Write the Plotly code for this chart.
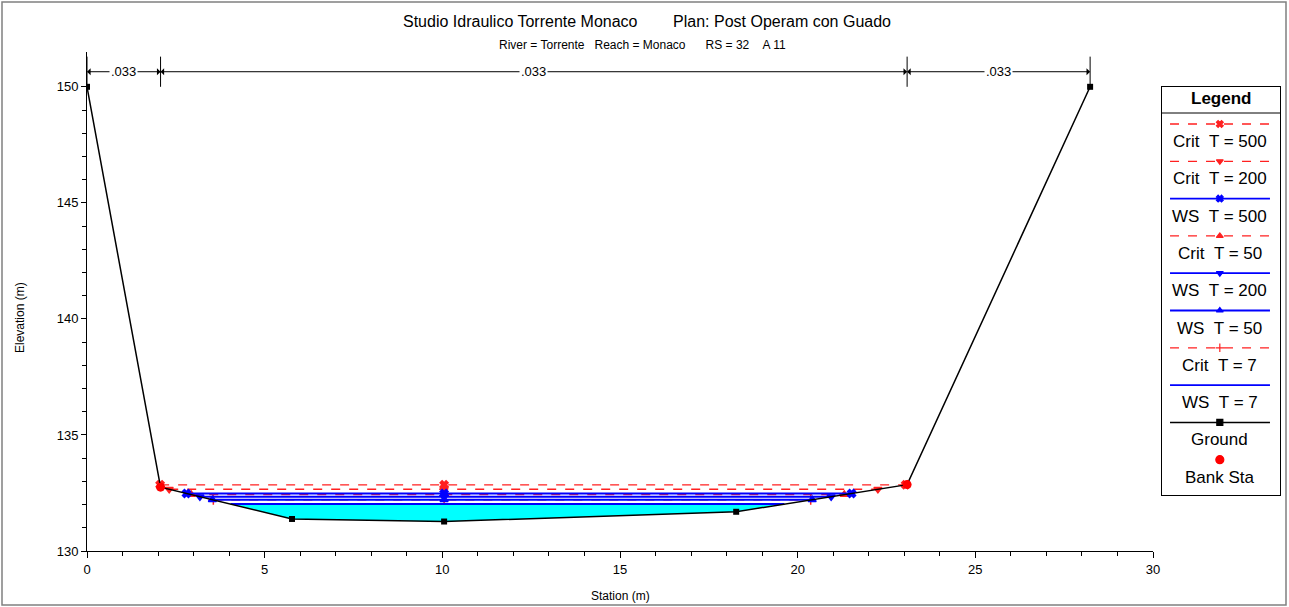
import numpy as np
import plotly.graph_objects as go

# ---------------- data ----------------
ground_sta = [0.0, 2.07, 5.77, 10.05, 18.27, 23.08, 28.23]
ground_elev = [150.0, 132.75, 131.38, 131.27, 131.69, 132.86, 150.0]
bank_sta = [2.07, 23.08]

profile_names = ["Crit T = 500", "Crit T = 200", "WS T = 500", "Crit T = 50",
                 "WS T = 200", "WS T = 50", "Crit T = 7", "WS T = 7"]
profile_elev = [132.85, 132.66, 132.48, 132.43, 132.34, 132.21, 132.20, 132.02]
profile_symbols = ["x", "triangle-down", "x", "triangle-up",
                   "triangle-down", "triangle-up", "cross-thin", None]

n_sta = [0.0, 2.07, 23.08, 28.23]
n_values = [".033", ".033", ".033"]

title1 = "Studio Idraulico Torrente Monaco\u00a0\u00a0\u00a0\u00a0\u00a0\u00a0\u00a0\u00a0Plan: Post Operam con Guado"
title2 = ("River = Torrente\u00a0\u00a0\u00a0Reach = Monaco\u00a0\u00a0\u00a0\u00a0\u00a0\u00a0"
          "RS = 32\u00a0\u00a0\u00a0\u00a0A 11")

FONT = "Liberation Sans Narrow, Liberation Sans, Arial, sans-serif"

# ---------------- geometry helpers ----------------
gs = np.array(ground_sta)
ge = np.array(ground_elev)
i0 = int(np.argmin(ge))


def intersections(level):
    xl, xr, il, ir = gs[0], gs[-1], 0, len(gs) - 1
    for i in range(i0, 0, -1):
        if ge[i - 1] >= level:
            t = (level - ge[i]) / (ge[i - 1] - ge[i])
            xl = gs[i] + t * (gs[i - 1] - gs[i])
            il = i
            break
    for j in range(i0, len(gs) - 1):
        if ge[j + 1] >= level:
            t = (level - ge[j]) / (ge[j + 1] - ge[j])
            xr = gs[j] + t * (gs[j + 1] - gs[j])
            ir = j
            break
    return xl, xr, il, ir


# ---------------- figure ----------------
W, H = 1289, 607
ML, MR, MT, MB = 87, 0, 52, 56
PW = 1195  # effective plot width observed in the rendered page
PH = H - MT - MB
x_dom_end = min(1066 / PW, 0.9)


def px_to_paper_x(px):
    return (px - ML) / PW


def px_to_paper_y(py):
    return (H - MB - py) / PH


fig = go.Figure()

# water fill for lowest WS profile
ws_low = profile_elev[-1]
xl, xr, il, ir = intersections(ws_low)
fx = [xl] + list(gs[il:ir + 1]) + [xr, xl]
fy = [ws_low] + list(ge[il:ir + 1]) + [ws_low, ws_low]
fig.add_trace(go.Scatter(x=fx, y=fy, fill="toself", fillcolor="#00FFFF",
                         line=dict(width=0), mode="lines", hoverinfo="skip",
                         showlegend=False))

mid_sta = gs[i0]


def style(name):
    if name.startswith("Crit"):
        return "#FF2020", "dash", 1.3
    return "#0000FF", "solid", 2


profiles = list(zip(profile_names, profile_elev, profile_symbols))
ordered = [p for p in reversed(profiles) if p[0].startswith("Crit")] + \
          [p for p in reversed(profiles) if p[0].startswith("WS")]
for name, lev, sym in ordered:
    col, dash, w = style(name)
    a, b, _, _ = intersections(lev)
    xs = [a, mid_sta, b]
    ys = [lev] * 3
    if sym is None:
        fig.add_trace(go.Scatter(x=xs, y=ys, mode="lines",
                                 line=dict(color=col, dash=dash, width=w),
                                 showlegend=False))
    else:
        fig.add_trace(go.Scatter(x=xs, y=ys, mode="lines+markers",
                                 line=dict(color=col, dash=dash, width=w),
                                 marker=dict(symbol=sym, size=7, color=col,
                                             line=dict(color=col, width=1.5)),
                                 showlegend=False))

# ground
fig.add_trace(go.Scatter(x=ground_sta, y=ground_elev, mode="lines+markers",
                         line=dict(color="black", width=1.5),
                         marker=dict(symbol="square", size=6, color="black"),
                         showlegend=False))
# bank stations
bank_elev = list(np.interp(bank_sta, gs, ge))
fig.add_trace(go.Scatter(x=bank_sta, y=bank_elev, mode="markers",
                         marker=dict(symbol="circle", size=9, color="#FF0000"),
                         showlegend=False))

# ---------------- Manning's n annotations ----------------
y_arrow = 150.65
shapes = []
annotations = []
for s in n_sta:
    shapes.append(dict(type="line", xref="x", yref="y", x0=s, x1=s,
                       y0=150.0, y1=151.3, line=dict(color="black", width=1)))
for k, val in enumerate(n_values):
    a, b = n_sta[k], n_sta[k + 1]
    m = (a + b) / 2
    for end in (a, b):
        annotations.append(dict(x=end, y=y_arrow, ax=m, ay=y_arrow, xref="x", yref="y",
                                axref="x", ayref="y", text="", showarrow=True,
                                arrowhead=1, arrowsize=1.2, arrowwidth=1,
                                arrowcolor="black"))
    annotations.append(dict(x=m, y=y_arrow, xref="x", yref="y", text=val,
                            showarrow=False, bgcolor="white",
                            font=dict(family=FONT, size=13, color="black"),
                            borderpad=1))

# ---------------- titles ----------------
annotations.append(dict(x=px_to_paper_x(647), y=px_to_paper_y(22), xref="paper", yref="paper",
                        text=title1, showarrow=False, xanchor="center", yanchor="middle",
                        font=dict(family=FONT, size=16, color="black")))
annotations.append(dict(x=px_to_paper_x(642), y=px_to_paper_y(45), xref="paper", yref="paper",
                        text=title2, showarrow=False, xanchor="center", yanchor="middle",
                        font=dict(family=FONT, size=12, color="black")))
annotations.append(dict(x=px_to_paper_x(620), y=px_to_paper_y(596), xref="paper", yref="paper",
                        text="Station (m)", showarrow=False, xanchor="center", yanchor="middle",
                        font=dict(family=FONT, size=12, color="black")))
annotations.append(dict(x=px_to_paper_x(20), y=px_to_paper_y(318), xref="paper", yref="paper",
                        text="Elevation (m)", showarrow=False, textangle=-90,
                        xanchor="center", yanchor="middle",
                        font=dict(family=FONT, size=12, color="black")))

# outer border
shapes.append(dict(type="rect", xref="paper", yref="paper",
                   x0=px_to_paper_x(2), x1=px_to_paper_x(1286),
                   y0=px_to_paper_y(605), y1=px_to_paper_y(2),
                   line=dict(color="#808080", width=1.5)))

# ---------------- custom legend (on an inset axis) ----------------
LX0, LX1, LY0, LY1 = 1162, 1280, 87, 495
leg_labels = [n.replace("Crit T", "Crit\u00a0\u00a0T").replace("WS T", "WS\u00a0\u00a0T")
              for n in profile_names]
leg_entries = list(zip(profile_names, leg_labels, profile_symbols)) + \
    [("Ground", "Ground", "square"), ("Bank Sta", "Bank Sta", "circle")]
row_gap = 37.3
first_line = 37.0
for k, (name, label, sym) in enumerate(leg_entries):
    yl = first_line + k * row_gap
    if name == "Ground":
        col, dash, w = "black", "solid", 1.5
    elif name == "Bank Sta":
        col, dash, w = "#FF0000", None, 0
    else:
        col, dash, w = style(name)
        w = 1.3 if name.startswith("Crit") else 1.8
    if name != "Bank Sta":
        fig.add_trace(go.Scatter(x=[0.068, 0.915], y=[yl, yl], mode="lines",
                                 line=dict(color=col, dash=dash, width=w),
                                 xaxis="x2", yaxis="y2", showlegend=False,
                                 hoverinfo="skip"))
    if sym is not None:
        msize = 8 if name == "Bank Sta" else 6
        fig.add_trace(go.Scatter(x=[0.49], y=[yl], mode="markers",
                                 marker=dict(symbol=sym, size=msize, color=col,
                                             line=dict(color=col, width=1.2)),
                                 xaxis="x2", yaxis="y2", showlegend=False,
                                 hoverinfo="skip"))
    annotations.append(dict(x=0.49, y=yl + 17.5, xref="x2", yref="y2", text=label,
                            showarrow=False, xanchor="center", yanchor="middle",
                            font=dict(family=FONT, size=17, color="black")))

annotations.append(dict(x=0.5, y=11.5, xref="x2", yref="y2", text="<b>Legend</b>",
                        showarrow=False, xanchor="center", yanchor="middle",
                        font=dict(family=FONT, size=17, color="black")))
shapes.append(dict(type="line", xref="x2", yref="y2", x0=0, x1=1.03, y0=26, y1=26,
                   line=dict(color="black", width=1)))

fig.update_layout(
    width=W, height=H, autosize=False,
    margin=dict(l=ML, r=MR, t=MT, b=MB),
    paper_bgcolor="white", plot_bgcolor="white",
    showlegend=False,
    font=dict(family=FONT, size=13, color="black"),
    shapes=shapes,
    annotations=annotations,
    xaxis=dict(domain=[0, x_dom_end], range=[0, 30], tickmode="linear", tick0=0, dtick=5,
               ticks="outside", ticklen=6, tickcolor="black", showgrid=False, zeroline=False,
               showline=True, linecolor="black", linewidth=1,
               minor=dict(dtick=1, ticks="outside", ticklen=4, tickcolor="black", showgrid=False),
               tickfont=dict(family=FONT, size=13)),
    yaxis=dict(range=[130, 151.5], tickmode="array", tickvals=[130, 135, 140, 145, 150],
               ticks="outside", ticklen=5, tickcolor="black", showgrid=False, zeroline=False,
               showline=True, linecolor="black", linewidth=1,
               minor=dict(tickvals=list(range(131, 150)), ticks="outside", ticklen=4,
                          tickcolor="black", showgrid=False),
               tickfont=dict(family=FONT, size=13)),
    xaxis2=dict(domain=[px_to_paper_x(LX0), min(px_to_paper_x(LX1), 1.0)], range=[0, 1],
                showline=True, mirror=True, linecolor="black", linewidth=1,
                showticklabels=False, ticks="", showgrid=False, zeroline=False,
                anchor="y2", fixedrange=True),
    yaxis2=dict(domain=[px_to_paper_y(LY1), px_to_paper_y(LY0)], range=[LY1 - LY0, 0],
                showline=True, mirror=True, linecolor="black", linewidth=1,
                showticklabels=False, ticks="", showgrid=False, zeroline=False,
                anchor="x2", fixedrange=True),
)

fig.write_html("out.html",
               config={"displayModeBar": False, "responsive": False},
               post_script="document.body.style.margin='0';document.body.style.overflow='hidden';")
